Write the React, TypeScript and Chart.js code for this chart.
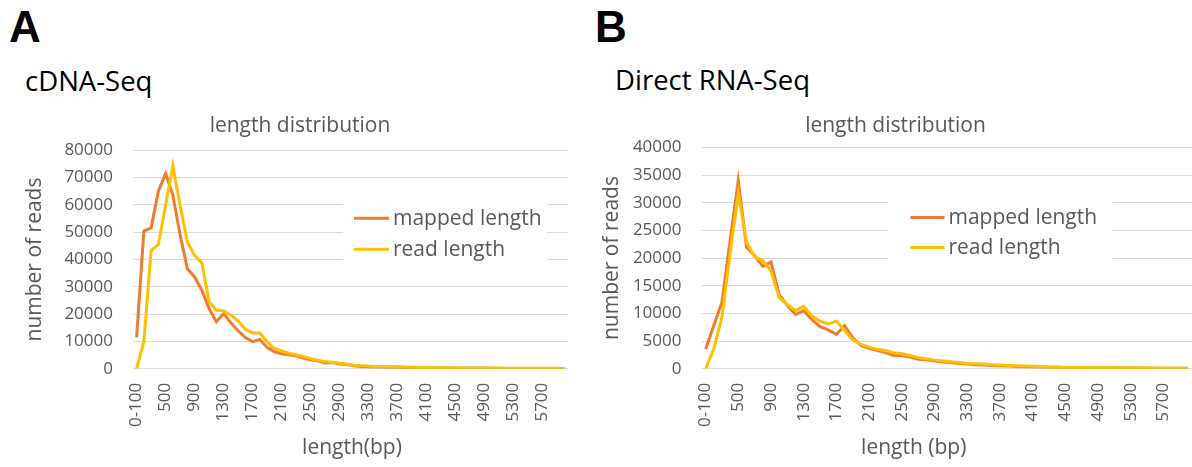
import React, { useEffect, useRef } from "react";
import { Chart, registerables } from "chart.js";

Chart.register(...registerables);

// ---------- data ----------
const categories = [
  "0-100", "200", "300", "400", "500", "600", "700", "800", "900", "1000",
  "1100", "1200", "1300", "1400", "1500", "1600", "1700", "1800", "1900", "2000",
  "2100", "2200", "2300", "2400", "2500", "2600", "2700", "2800", "2900", "3000",
  "3100", "3200", "3300", "3400", "3500", "3600", "3700", "3800", "3900", "4000",
  "4100", "4200", "4300", "4400", "4500", "4600", "4700", "4800", "4900", "5000",
  "5100", "5200", "5300", "5400", "5500", "5600", "5700", "5800", "5900", "6000",
];

const shownTicks = [
  "0-100", "500", "900", "1300", "1700", "2100", "2500", "2900",
  "3300", "3700", "4100", "4500", "4900", "5300", "5700",
];

const seriesNames = ["mapped length", "read length"];
const seriesColors = ["#ED7D31", "#FFC000"];

const cdnaMapped = [
  11500, 50400, 51600, 65000, 71500, 63500, 49000, 36600, 33600, 28700,
  22000, 17200, 20200, 16800, 13900, 11400, 9900, 10700, 7800, 6200,
  5500, 5100, 4700, 3900, 3300, 2900, 2100, 2300, 1700, 1500,
  1100, 850, 700, 600, 600, 550, 500, 400, 350, 300,
  250, 250, 200, 200, 180, 160, 150, 140, 130, 120,
  110, 100, 100, 90, 90, 80, 80, 70, 60, 50,
];

const cdnaRead = [
  0, 9900, 43300, 45500, 60000, 74300, 59700, 46400, 41500, 38700,
  24500, 21400, 21200, 19600, 17500, 14400, 13100, 13100, 9900, 7400,
  6500, 5700, 5100, 4500, 3700, 3100, 2600, 2400, 2000, 1700,
  1300, 1100, 1000, 850, 850, 800, 750, 600, 500, 450,
  400, 380, 350, 320, 300, 280, 260, 250, 240, 230,
  220, 210, 200, 190, 180, 170, 160, 150, 140, 100,
];

const rnaMapped = [
  3500, 7800, 12000, 23200, 34000, 22000, 20400, 18500, 19300, 13400,
  11400, 9800, 10500, 8900, 7600, 7000, 6200, 7800, 5600, 4200,
  3700, 3300, 2900, 2400, 2400, 2100, 1700, 1600, 1400, 1200,
  1100, 950, 850, 700, 650, 600, 550, 500, 400, 350,
  350, 300, 250, 250, 200, 200, 180, 170, 160, 150,
  140, 130, 120, 110, 100, 100, 90, 90, 80, 80,
];

const rnaRead = [
  0, 3600, 9300, 20800, 31600, 22900, 20200, 19500, 17700, 12900,
  11600, 10500, 11300, 9500, 8600, 8100, 8600, 6900, 5200, 4400,
  3900, 3500, 3300, 2900, 2700, 2400, 2000, 1800, 1550, 1400,
  1250, 1100, 950, 900, 850, 700, 650, 600, 550, 500,
  450, 400, 300, 250, 230, 220, 200, 190, 180, 170,
  160, 150, 140, 130, 120, 110, 100, 100, 90, 90,
];

// ---------- style ----------
const FONT = "'Open Sans', 'Noto Sans', sans-serif";
const GREY = "#595959";
const GRID = "#D9D9D9";

const insideLegend = {
  id: "insideLegend",
  beforeDatasetsDraw(chart: any, _args: any, opts: any) {
    const { ctx, chartArea } = chart;
    ctx.save();
    ctx.fillStyle = "#ffffff";
    ctx.fillRect(chartArea.left + opts.boxX, chartArea.top + opts.boxY, opts.boxW, opts.boxH);
    ctx.restore();
  },
  afterDatasetsDraw(chart: any, _args: any, opts: any) {
    const { ctx, chartArea } = chart;
    ctx.save();
    chart.data.datasets.forEach((ds: any, i: number) => {
      const y = chartArea.top + opts.rows[i];
      ctx.strokeStyle = ds.borderColor;
      ctx.lineWidth = ds.borderWidth;
      ctx.beginPath();
      ctx.moveTo(chartArea.left + opts.lineX0, y);
      ctx.lineTo(chartArea.left + opts.lineX1, y);
      ctx.stroke();
      ctx.fillStyle = GREY;
      ctx.font = `${opts.fontSize}px ${FONT}`;
      ctx.textBaseline = "middle";
      ctx.textAlign = "left";
      ctx.fillText(ds.label, chartArea.left + opts.textX, y + 1);
    });
    ctx.restore();
  },
};

// x-axis title drawn under the plot, with a horizontal shift from the plot centre
const xAxisTitle = {
  id: "xAxisTitle",
  afterDraw(chart: any, _args: any, opts: any) {
    const { ctx, chartArea } = chart;
    ctx.save();
    ctx.fillStyle = GREY;
    ctx.font = `${opts.fontSize}px ${FONT}`;
    ctx.textBaseline = "middle";
    ctx.textAlign = "center";
    ctx.fillText(opts.text, (chartArea.left + chartArea.right) / 2 + opts.shift, chart.height - opts.fromBottom);
    ctx.restore();
  },
};

type PanelProps = {
  left: number;
  top: number;
  width: number;
  height: number;
  mapped: number[];
  read: number[];
  yMax: number;
  yStep: number;
  xTitle: string;
  xTitleShift: number;
  pad: { left: number; right: number; top: number; bottom: number };
  titlePadBottom: number;
  yTitlePad: { top: number; bottom: number };
  yAxisWidth: number;
  xAxisHeight: number;
  legend: any;
};

function Panel(p: PanelProps) {
  const ref = useRef<HTMLCanvasElement>(null);
  useEffect(() => {
    const chart = new Chart(ref.current as HTMLCanvasElement, {
      type: "line",
      data: {
        labels: categories,
        datasets: [
          {
            label: seriesNames[0],
            data: p.mapped,
            borderColor: seriesColors[0],
            backgroundColor: seriesColors[0],
            borderWidth: 3,
            pointRadius: 0,
            tension: 0,
            order: 1,
          },
          {
            label: seriesNames[1],
            data: p.read,
            borderColor: seriesColors[1],
            backgroundColor: seriesColors[1],
            borderWidth: 3,
            pointRadius: 0,
            tension: 0,
            order: 0,
          },
        ],
      },
      options: {
        responsive: false,
        animation: false,
        devicePixelRatio: 1,
        layout: { padding: p.pad },
        plugins: {
          legend: { display: false },
          tooltip: { enabled: false },
          title: {
            display: true,
            text: "length distribution",
            color: GREY,
            font: { family: FONT, size: 21, weight: "normal" },
            padding: { top: 13.4, bottom: p.titlePadBottom },
          },
          insideLegend: p.legend,
          xAxisTitle: { text: p.xTitle, shift: p.xTitleShift, fontSize: 21, fromBottom: 18.6 },
        } as any,
        scales: {
          x: {
            offset: true,
            grid: { display: false, drawTicks: false },
            border: { display: false },
            afterFit: (s: any) => {
              s.height = p.xAxisHeight;
              s.paddingLeft = 0;
              s.paddingRight = 0;
            },
            ticks: {
              autoSkip: false,
              minRotation: 90,
              maxRotation: 90,
              padding: 14,
              color: GREY,
              font: { family: FONT, size: 17 },
              callback: function (this: any, _v: any, i: number) {
                const lab = categories[i];
                return shownTicks.includes(lab) ? lab : "";
              },
            },
            title: { display: false },
          },
          y: {
            min: 0,
            max: p.yMax,
            grid: { color: GRID, lineWidth: 1, drawTicks: false },
            border: { display: false },
            afterFit: (s: any) => {
              s.width = p.yAxisWidth;
            },
            ticks: {
              stepSize: p.yStep,
              padding: 20,
              color: GREY,
              font: { family: FONT, size: 17 },
              callback: (v: any) => String(v),
            },
            title: {
              display: true,
              text: "number of reads",
              color: GREY,
              font: { family: FONT, size: 21 },
              padding: p.yTitlePad,
            },
          },
        },
      },
      plugins: [insideLegend, xAxisTitle],
    });
    return () => chart.destroy();
  }, []);
  return (
    <canvas
      ref={ref}
      width={p.width}
      height={p.height}
      style={{ position: "absolute", left: p.left, top: p.top, width: p.width, height: p.height }}
    />
  );
}

const labelStyle: React.CSSProperties = {
  position: "absolute",
  fontFamily: "'Liberation Sans', Arial, sans-serif",
  fontWeight: "bold",
  fontSize: 44,
  lineHeight: "44px",
  color: "#000",
  whiteSpace: "nowrap",
};

const subStyle: React.CSSProperties = {
  position: "absolute",
  fontFamily: FONT,
  fontSize: 27.5,
  lineHeight: "27.5px",
  color: "#000",
  whiteSpace: "nowrap",
};

export default function App() {
  return (
    <div style={{ position: "absolute", left: 0, top: 0, width: 1192, height: 467, background: "#fff", overflow: "hidden" }}>
      <div style={{ ...labelStyle, left: 9, top: 5 }}>A</div>
      <div style={{ ...subStyle, left: 25, top: 66.5 }}>cDNA-Seq</div>
      <div style={{ ...labelStyle, left: 595, top: 5 }}>B</div>
      <div style={{ ...subStyle, left: 615, top: 66 }}>Direct RNA-Seq</div>
      <Panel
        left={0}
        top={100}
        width={600}
        height={367}
        mapped={cdnaMapped}
        read={cdnaRead}
        yMax={80000}
        yStep={10000}
        xTitle="length(bp)"
        xTitleShift={1.5}
        pad={{ left: 32, right: 32, top: 0, bottom: 2 }}
        titlePadBottom={11.7}
        yTitlePad={{ top: -9.6, bottom: 4 }}
        yAxisWidth={101}
        xAxisHeight={96.3}
        legend={{ boxX: 210, boxY: 41, boxW: 204, boxH: 72, lineX0: 221, lineX1: 256, textX: 260, rows: [68, 99], fontSize: 21 }}
      />
      <Panel
        left={599}
        top={100}
        width={593}
        height={367}
        mapped={rnaMapped}
        read={rnaRead}
        yMax={40000}
        yStep={5000}
        xTitle="length (bp)"
        xTitleShift={-33}
        pad={{ left: 0, right: 0, top: 0, bottom: 2 }}
        titlePadBottom={8.8}
        yTitlePad={{ top: 0.4, bottom: 4 }}
        yAxisWidth={102.5}
        xAxisHeight={96.3}
        legend={{ boxX: 187, boxY: 43, boxW: 224, boxH: 72, lineX0: 209, lineX1: 243, textX: 247, rows: [70, 100], fontSize: 21 }}
      />
    </div>
  );
}
